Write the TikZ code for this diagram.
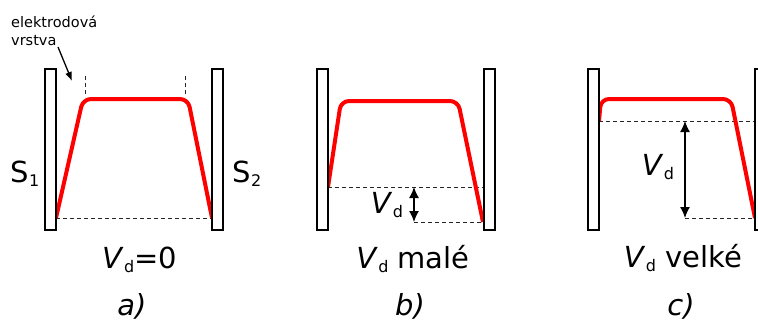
\documentclass[tikz,border=0pt]{standalone}
\usepackage{fontspec}
\setmainfont{DejaVu Sans}
\usetikzlibrary{arrows.meta}
\newcommand\lowsub[1]{\raisebox{-4pt}{\fontsize{16}{16}\selectfont #1}}
\newcommand\Vd{\textit{V}\kern0.5pt\lowsub{d}}
\begin{document}
\begin{tikzpicture}[x=1pt,y=-1pt,
  plate/.style={draw,line width=2pt,fill=white,minimum width=11pt,minimum height=161pt,inner sep=0pt},
  curve/.style={draw=red,line width=4pt,rounded corners=8pt,line join=round},
  guide/.style={line width=1pt,dash pattern=on 4pt off 3pt,black!85},
  big/.style={font=\fontsize{29}{34}\selectfont,inner sep=0pt,anchor=base},
  small/.style={font=\fontsize{14.5}{17}\selectfont,inner sep=0pt,anchor=base west},
  dim/.style={line width=1.3pt,{Latex[length=11pt,width=10pt]}-{Latex[length=11pt,width=10pt]}},
  pointer/.style={line width=1.3pt,-{Latex[length=9pt,width=7pt]}}]
\clip (0,0) rectangle (758,322);
\fill[white] (0,0) rectangle (758,322);

% ---------- panel a ----------
\coordinate (a0) at (56,218);
\coordinate (a1) at (83,99);
\coordinate (a2) at (188,99);
\coordinate (a3) at (212,218);
\coordinate (av1t) at (85,76);  \coordinate (av1b) at (85,97);
\coordinate (av2t) at (185,76); \coordinate (av2b) at (185,97);
\draw[guide] (a0) -- (a3);
\draw[guide] (av1t) -- (av1b);
\draw[guide] (av2t) -- (av2b);
\draw[curve] (a0) -- (a1) -- (a2) -- (a3);
\node[plate] (pa1) at (50.5,149.5) {};
\node[plate] (pa2) at (217.5,149.5) {};
\node[small] (lab1) at (11,27) {elektrodová};
\node[small] (lab2) at (11,45) {vrstva};
\coordinate (ps) at (58,47);
\coordinate (pe) at (72,81);
\draw[pointer] (ps) -- (pe);
\node[big] (s1) at (25,182) {S\lowsub{1}};
\node[big] (s2) at (247,182) {S\lowsub{2}};
\node[big] (ta) at (139.5,268) {\Vd=0};
\node[big] (la) at (132,315) {\textit{a)}};

% ---------- panel b ----------
\coordinate (b0) at (328,187);
\coordinate (b1) at (341,101);
\coordinate (b2) at (458,101);
\coordinate (b3) at (483,222);
\coordinate (bd1) at (414,187);
\coordinate (bd2) at (414,222);
\draw[guide] (b0) -- (483,187);
\draw[guide] (bd2) -- (b3);
\draw[curve] (b0) -- (b1) -- (b2) -- (b3);
\node[plate] (pb1) at (322,149.5) {};
\node[plate] (pb2) at (489,149.5) {};
\draw[dim] (bd1) -- (bd2);
\node[big] (vb) at (387,213) {\Vd};
\node[big] (tb) at (413,268) {\Vd{} malé};
\node[big] (lb) at (410,315) {\textit{b)}};

% ---------- panel c ----------
\coordinate (c0) at (599,121);
\coordinate (c1) at (601,99);
\coordinate (c2) at (731,99);
\coordinate (c3) at (755,218);
\coordinate (cd1) at (685,121);
\coordinate (cd2) at (685,218);
\draw[guide] (c0) -- (755,121);
\draw[guide] (cd2) -- (c3);
\draw[curve] (c0) -- (c1) -- (c2) -- (c3);
\node[plate] (pc1) at (593.5,149.5) {};
\node[plate] (pc2) at (760.5,149.5) {};
\draw[dim] (cd1) -- (cd2);
\node[big] (vc) at (658,175) {\Vd};
\node[big] (tc) at (683,267) {\Vd{} velké};
\node[big] (lc) at (681,315) {\textit{c)}};
\end{tikzpicture}
\end{document}
